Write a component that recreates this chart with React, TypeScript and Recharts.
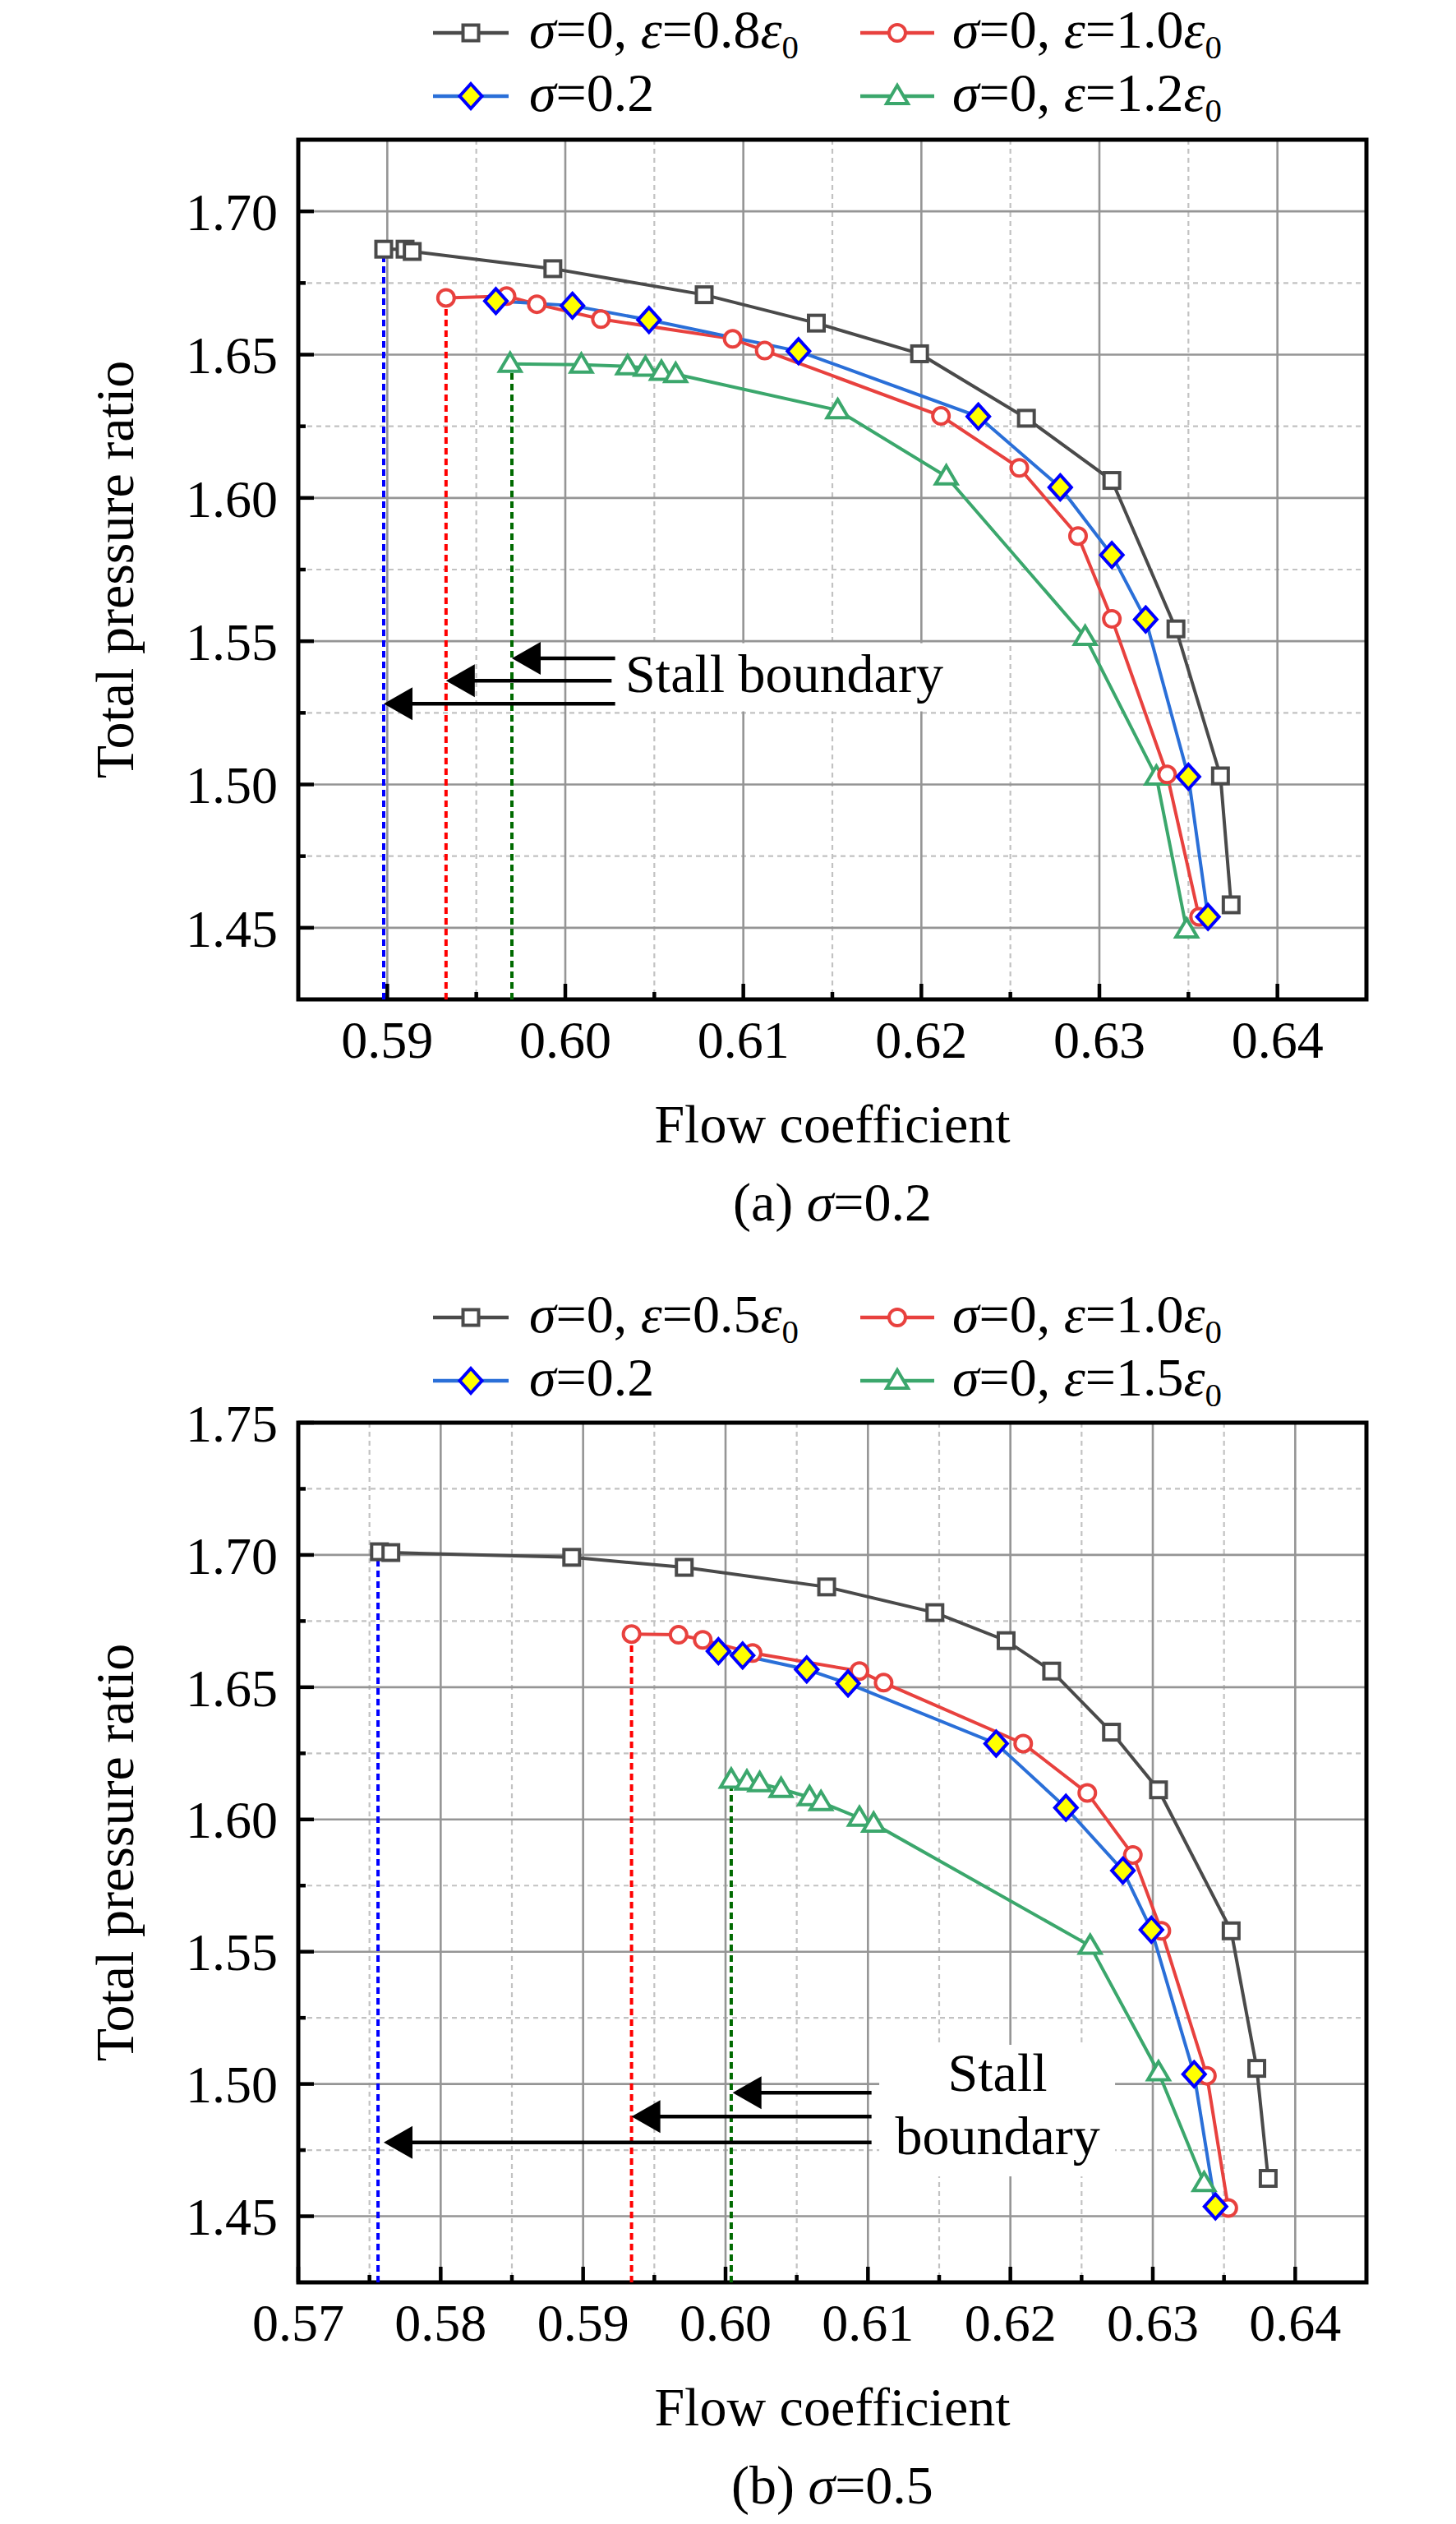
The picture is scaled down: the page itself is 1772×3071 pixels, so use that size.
import React from 'react';
import {
  LineChart,
  Line,
  XAxis,
  YAxis,
  CartesianGrid,
  ReferenceLine,
  ReferenceArea,
  ReferenceDot,
  Legend,
} from 'recharts';

const FONT = '"Liberation Serif", "Times New Roman", Times, serif';

// ---------------- Panel (a): sigma = 0.2 ----------------
const aEps08 = [
  { x: 0.5898, y: 1.6868 },
  { x: 0.591, y: 1.6868 },
  { x: 0.5914, y: 1.686 },
  { x: 0.5993, y: 1.68 },
  { x: 0.6078, y: 1.6709 },
  { x: 0.6141, y: 1.661 },
  { x: 0.6199, y: 1.6503 },
  { x: 0.6259, y: 1.6278 },
  { x: 0.6307, y: 1.6061 },
  { x: 0.6343, y: 1.5543 },
  { x: 0.6368, y: 1.503 },
  { x: 0.6374, y: 1.458 },
];
const aEps10 = [
  { x: 0.5933, y: 1.6698 },
  { x: 0.5967, y: 1.6704 },
  { x: 0.5984, y: 1.6676 },
  { x: 0.602, y: 1.6624 },
  { x: 0.6094, y: 1.6555 },
  { x: 0.6112, y: 1.6514 },
  { x: 0.6211, y: 1.6286 },
  { x: 0.6255, y: 1.6105 },
  { x: 0.6288, y: 1.5867 },
  { x: 0.6307, y: 1.5578 },
  { x: 0.6338, y: 1.5035 },
  { x: 0.6356, y: 1.4538 },
];
const aSigma = [
  { x: 0.5961, y: 1.6687 },
  { x: 0.6004, y: 1.6671 },
  { x: 0.6047, y: 1.6621 },
  { x: 0.6131, y: 1.6512 },
  { x: 0.6232, y: 1.6284 },
  { x: 0.6278, y: 1.6037 },
  { x: 0.6307, y: 1.5801 },
  { x: 0.6326, y: 1.5576 },
  { x: 0.635, y: 1.5027 },
  { x: 0.6361, y: 1.4538 },
];
const aEps12 = [
  { x: 0.5969, y: 1.6468 },
  { x: 0.6009, y: 1.6465 },
  { x: 0.6035, y: 1.6459 },
  { x: 0.6045, y: 1.6454 },
  { x: 0.6054, y: 1.644 },
  { x: 0.6062, y: 1.6432 },
  { x: 0.6153, y: 1.6306 },
  { x: 0.6214, y: 1.6075 },
  { x: 0.6292, y: 1.5515 },
  { x: 0.6332, y: 1.5027 },
  { x: 0.6349, y: 1.4494 },
];
const aXDomain = [0.585, 0.645];
const aYDomain = [1.425, 1.725];
const aXMajor = [0.59, 0.6, 0.61, 0.62, 0.63, 0.64];
const aXMinor = [0.595, 0.605, 0.615, 0.625, 0.635];
const aYMajor = [1.45, 1.5, 1.55, 1.6, 1.65, 1.7];
const aYMinor = [1.475, 1.525, 1.575, 1.625, 1.675];
// stall lines: x position, top value
const aStallX = [0.5898, 0.5933, 0.597];
const aStallTop = [1.6868, 1.6698, 1.6468];
// arrows: tip x, y, tail x
const aArrowTip = [0.597, 0.5933, 0.5898];
const aArrowY = [1.544, 1.5362, 1.5282];
const aArrowTail = [0.6028, 0.6026, 0.6028];
const aStallLabelPos = { x: 0.6123, y: 1.5324 };
const aStallLabelText = ['Stall boundary'];

// ---------------- Panel (b): sigma = 0.5 ----------------
const bEps05 = [
  { x: 0.5757, y: 1.7012 },
  { x: 0.5765, y: 1.7009 },
  { x: 0.5892, y: 1.6991 },
  { x: 0.5971, y: 1.6953 },
  { x: 0.6071, y: 1.6879 },
  { x: 0.6147, y: 1.6782 },
  { x: 0.6197, y: 1.6676 },
  { x: 0.6229, y: 1.6561 },
  { x: 0.6271, y: 1.633 },
  { x: 0.6304, y: 1.6112 },
  { x: 0.6355, y: 1.5579 },
  { x: 0.6373, y: 1.5059 },
  { x: 0.6381, y: 1.4643 },
];
const bEps10 = [
  { x: 0.5934, y: 1.6701 },
  { x: 0.5967, y: 1.6698 },
  { x: 0.5984, y: 1.6679 },
  { x: 0.6019, y: 1.6629 },
  { x: 0.6094, y: 1.6561 },
  { x: 0.6111, y: 1.6517 },
  { x: 0.6209, y: 1.6287 },
  { x: 0.6254, y: 1.61 },
  { x: 0.6286, y: 1.5866 },
  { x: 0.6306, y: 1.5579 },
  { x: 0.6338, y: 1.5031 },
  { x: 0.6353, y: 1.4531 },
];
const bSigma = [
  { x: 0.5995, y: 1.6636 },
  { x: 0.6012, y: 1.662 },
  { x: 0.6057, y: 1.6567 },
  { x: 0.6086, y: 1.6514 },
  { x: 0.619, y: 1.6287 },
  { x: 0.6239, y: 1.6044 },
  { x: 0.6279, y: 1.5807 },
  { x: 0.6299, y: 1.5583 },
  { x: 0.6329, y: 1.5037 },
  { x: 0.6344, y: 1.4537 },
];
const bEps15 = [
  { x: 0.6004, y: 1.615 },
  { x: 0.6015, y: 1.6143 },
  { x: 0.6024, y: 1.6137 },
  { x: 0.6039, y: 1.6115 },
  { x: 0.6059, y: 1.6084 },
  { x: 0.6067, y: 1.6065 },
  { x: 0.6094, y: 1.6006 },
  { x: 0.6104, y: 1.5984 },
  { x: 0.6256, y: 1.5522 },
  { x: 0.6304, y: 1.5044 },
  { x: 0.6336, y: 1.4625 },
];
const bXDomain = [0.57, 0.645];
const bYDomain = [1.425, 1.75];
const bXMajor = [0.57, 0.58, 0.59, 0.6, 0.61, 0.62, 0.63, 0.64];
const bXMinor = [0.575, 0.585, 0.595, 0.605, 0.615, 0.625, 0.635];
const bYMajor = [1.45, 1.5, 1.55, 1.6, 1.65, 1.7, 1.75];
const bYMinor = [1.475, 1.525, 1.575, 1.625, 1.675, 1.725];
const bStallX = [0.5756, 0.5934, 0.6004];
const bStallTop = [1.7012, 1.6701, 1.615];
const bArrowTip = [0.6005, 0.5934, 0.576];
const bArrowY = [1.4967, 1.4877, 1.4779];
const bArrowTail = [0.61025, 0.61025, 0.61025];
const bStallLabelPos = { x: 0.6191, y: 1.4974 };
const bStallLabelText = ['Stall', 'boundary'];

// ---------------- styling ----------------
const COL_BLACK = '#4a4a4a';
const COL_RED = '#e8413e';
const COL_BLUE = '#2a6fd8';
const COL_GREEN = '#3ba76c';
const STALL_COLORS = ['#0000ff', '#ff0000', '#006a00'];

const PLOT_TOP = 170;
const PLOT_H = 1046;
const PLOT_LEFT = 363;
const PLOT_W = 1300;
const CHART_W = 1772;
const MSW = 4; // marker stroke width

type Pt = { x: number; y: number };
type Series = { name: string; data: Pt[]; color: string; marker: string };

function Marker({ kind, cx, cy, color }: { kind: string; cx: number; cy: number; color: string }) {
  if (kind === 'square') {
    return <rect x={cx - 9.5} y={cy - 9.5} width={19} height={19} fill="#fff" stroke={color} strokeWidth={MSW} />;
  }
  if (kind === 'circle') {
    return <circle cx={cx} cy={cy} r={10} fill="#fff" stroke={color} strokeWidth={MSW} />;
  }
  if (kind === 'diamond') {
    return (
      <polygon
        points={`${cx},${cy - 15} ${cx + 13.5},${cy} ${cx},${cy + 15} ${cx - 13.5},${cy}`}
        fill="#ffff00"
        stroke="#0000ff"
        strokeWidth={MSW}
      />
    );
  }
  return (
    <polygon
      points={`${cx},${cy - 13} ${cx + 13},${cy + 9} ${cx - 13},${cy + 9}`}
      fill="#fff"
      stroke={color}
      strokeWidth={MSW}
    />
  );
}

function makeDot(kind: string, color: string) {
  return (p: any) => {
    if (p == null || p.cx == null || p.cy == null) return <g key={`e-${kind}-${p?.index}`} />;
    return (
      <g key={`${kind}-${p.index}`}>
        <Marker kind={kind} cx={p.cx} cy={p.cy} color={color} />
      </g>
    );
  };
}

function RichText({ s, fontSize }: { s: string; fontSize: number }) {
  const parts: React.ReactNode[] = [];
  let buf = '';
  let key = 0;
  const flush = () => {
    if (buf) {
      parts.push(<tspan key={key++}>{buf}</tspan>);
      buf = '';
    }
  };
  for (let k = 0; k < s.length; k++) {
    const ch = s[k];
    if (ch === 'σ' || ch === 'ε') {
      flush();
      parts.push(
        <tspan key={key++} fontStyle="italic">
          {ch}
        </tspan>
      );
    } else if (ch === '_') {
      flush();
      parts.push(
        <tspan key={key++} fontSize={fontSize * 0.62} dy={fontSize * 0.2}>
          {s[k + 1]}
        </tspan>
      );
      k++;
    } else {
      buf += ch;
    }
  }
  flush();
  return <>{parts}</>;
}

function LegendSvg({ series, rowY }: { series: Series[]; rowY: number[] }) {
  // series order: [col1row1, col2row1, col1row2, col2row2]
  const cols = [
    { lineX1: 527, lineX2: 619, markX: 573, textX: 644 },
    { lineX1: 1047, lineX2: 1137, markX: 1092, textX: 1159 },
  ];
  return (
    <svg width={CHART_W} height={PLOT_TOP} style={{ display: 'block' }}>
      {series.map((s, i) => {
        const c = cols[i % 2];
        const y = rowY[Math.floor(i / 2)];
        return (
          <g key={s.name}>
            <line x1={c.lineX1} x2={c.lineX2} y1={y} y2={y} stroke={s.color} strokeWidth={4.5} />
            <Marker kind={s.marker} cx={c.markX} cy={y} color={s.color} />
            <text x={c.textX} y={y + 18} fontFamily={FONT} fontSize={66} fill="#000">
              <RichText s={s.name} fontSize={66} />
            </text>
          </g>
        );
      })}
    </svg>
  );
}

const XTick = (p: any) => {
  const { x, y, payload, majors } = p;
  const v = payload.value as number;
  const major = majors.some((m: number) => Math.abs(m - v) < 1e-7);
  const axisY = y - 26;
  return (
    <g>
      <line x1={x} x2={x} y1={axisY} y2={axisY - (major ? 19 : 9)} stroke="#000" strokeWidth={4.5} />
      {major && (
        <text x={x} y={y} dy="0.71em" textAnchor="middle" fontFamily={FONT} fontSize={64} fill="#000">
          {v.toFixed(2)}
        </text>
      )}
    </g>
  );
};

const YTick = (p: any) => {
  const { x, y, payload, majors } = p;
  const v = payload.value as number;
  const major = majors.some((m: number) => Math.abs(m - v) < 1e-7);
  const axisX = x + 25;
  return (
    <g>
      <line x1={axisX} x2={axisX + (major ? 19 : 9)} y1={y} y2={y} stroke="#000" strokeWidth={4.5} />
      {major && (
        <text x={x} y={y} dy="0.355em" textAnchor="end" fontFamily={FONT} fontSize={64} fill="#000">
          {v.toFixed(2)}
        </text>
      )}
    </g>
  );
};

const arrowShape = (p: any) => {
  const { x1, y1, x2, y2 } = p;
  if (x1 == null || x2 == null) return <g />;
  const tip = x2;
  return (
    <g>
      <line x1={x1} y1={y1} x2={tip + 30} y2={y2} stroke="#000" strokeWidth={4.5} />
      <polygon points={`${tip},${y2} ${tip + 35},${y2 - 20} ${tip + 35},${y2 + 20}`} fill="#000" />
    </g>
  );
};

function stallLabelShape(lines: string[], box: number[]) {
  return (p: any) => {
    const { cx, cy } = p;
    if (cx == null || cy == null) return <g />;
    return (
      <g>
        <rect x={cx + box[0]} y={cy + box[1]} width={box[2] - box[0]} height={box[3] - box[1]} fill="#fff" />
        {lines.map((t, i) => (
          <text key={t} x={cx} y={cy + i * 77} textAnchor="middle" fontFamily={FONT} fontSize={66} fill="#000">
            {t}
          </text>
        ))}
      </g>
    );
  };
}

type PanelProps = {
  height: number;
  xDomain: number[];
  yDomain: number[];
  xMajor: number[];
  xMinor: number[];
  yMajor: number[];
  yMinor: number[];
  series: Series[];
  drawOrder: number[];
  stallX: number[];
  stallTop: number[];
  arrowTip: number[];
  arrowY: number[];
  arrowTail: number[];
  labelPos: Pt;
  labelText: string[];
  labelBox: number[];
  caption: string;
  legendRows: number[];
};

function Panel(props: PanelProps) {
  const {
    height,
    xDomain,
    yDomain,
    xMajor,
    xMinor,
    yMajor,
    yMinor,
    series,
    drawOrder,
    stallX,
    stallTop,
    arrowTip,
    arrowY,
    arrowTail,
    labelPos,
    labelText,
    labelBox,
    caption,
    legendRows,
  } = props;
  const xTicks = [...xMajor, ...xMinor].sort((a, b) => a - b);
  const yTicks = [...yMajor, ...yMinor].sort((a, b) => a - b);
  const xAxisH = height - PLOT_TOP - PLOT_H;
  const plotBottom = PLOT_TOP + PLOT_H;
  const centerX = PLOT_LEFT + PLOT_W / 2;

  const xLabel = () => (
    <g>
      <text x={centerX} y={plotBottom + 174} textAnchor="middle" fontFamily={FONT} fontSize={66} fill="#000">
        Flow coefficient
      </text>
      <text x={centerX} y={plotBottom + 269} textAnchor="middle" fontFamily={FONT} fontSize={66} fill="#000">
        <RichText s={caption} fontSize={66} />
      </text>
    </g>
  );
  const yLabel = () => {
    const cx = 162;
    const cy = PLOT_TOP + PLOT_H / 2;
    return (
      <text
        x={cx}
        y={cy}
        transform={`rotate(-90 ${cx} ${cy})`}
        textAnchor="middle"
        fontFamily={FONT}
        fontSize={66}
        fill="#000"
      >
        Total pressure ratio
      </text>
    );
  };

  return (
    <LineChart
      width={CHART_W}
      height={height}
      margin={{ top: PLOT_TOP, right: CHART_W - PLOT_LEFT - PLOT_W, bottom: 0, left: PLOT_LEFT - 150 }}
    >
      <CartesianGrid
        horizontalValues={yMinor}
        verticalValues={xMinor}
        stroke="#c2c2c2"
        strokeWidth={2.2}
        strokeDasharray="6 5"
      />
      <CartesianGrid horizontalValues={yMajor} verticalValues={xMajor} stroke="#959595" strokeWidth={2.6} />
      <XAxis
        type="number"
        dataKey="x"
        domain={xDomain}
        ticks={xTicks}
        interval={0}
        allowDataOverflow
        tickLine={false}
        axisLine={false}
        tickSize={0}
        tickMargin={26}
        height={xAxisH}
        tick={(p: any) => <XTick {...p} majors={xMajor} />}
        label={xLabel}
      />
      <YAxis
        type="number"
        domain={yDomain}
        ticks={yTicks}
        interval={0}
        allowDataOverflow
        tickLine={false}
        axisLine={false}
        tickSize={0}
        tickMargin={25}
        width={150}
        tick={(p: any) => <YTick {...p} majors={yMajor} />}
        label={yLabel}
      />
      <Legend
        layout="vertical"
        align="center"
        verticalAlign="middle"
        wrapperStyle={{ left: 0, top: 0, width: CHART_W, height: PLOT_TOP }}
        content={() => <LegendSvg series={series} rowY={legendRows} />}
      />
      {stallX.map((x, i) => (
        <ReferenceLine
          key={`stall-${i}`}
          segment={[
            { x, y: yDomain[0] },
            { x, y: stallTop[i] },
          ]}
          stroke={STALL_COLORS[i]}
          strokeWidth={4}
          strokeDasharray="8 5"
          ifOverflow="visible"
        />
      ))}
      <ReferenceDot
        x={labelPos.x}
        y={labelPos.y}
        r={0}
        ifOverflow="visible"
        shape={stallLabelShape(labelText, labelBox)}
      />
      {arrowTip.map((tip, i) => (
        <ReferenceLine
          key={`arrow-${i}`}
          segment={[
            { x: arrowTail[i], y: arrowY[i] },
            { x: tip, y: arrowY[i] },
          ]}
          ifOverflow="visible"
          shape={arrowShape}
        />
      ))}
      {drawOrder.map((idx) => {
        const s = series[idx];
        return (
          <Line
            key={s.name}
            data={s.data}
            dataKey="y"
            name={s.name}
            type="linear"
            stroke={s.color}
            strokeWidth={4}
            dot={makeDot(s.marker, s.color)}
            activeDot={false}
            isAnimationActive={false}
          />
        );
      })}
      <ReferenceArea
        x1={xDomain[0]}
        x2={xDomain[1]}
        y1={yDomain[0]}
        y2={yDomain[1]}
        fill="none"
        fillOpacity={0}
        stroke="#000"
        strokeWidth={5}
        ifOverflow="visible"
      />
    </LineChart>
  );
}

const aSeries: Series[] = [
  { name: 'σ=0, ε=0.8ε_0', data: aEps08, color: COL_BLACK, marker: 'square' },
  { name: 'σ=0, ε=1.0ε_0', data: aEps10, color: COL_RED, marker: 'circle' },
  { name: 'σ=0.2', data: aSigma, color: COL_BLUE, marker: 'diamond' },
  { name: 'σ=0, ε=1.2ε_0', data: aEps12, color: COL_GREEN, marker: 'triangle' },
];
const bSeries: Series[] = [
  { name: 'σ=0, ε=0.5ε_0', data: bEps05, color: COL_BLACK, marker: 'square' },
  { name: 'σ=0, ε=1.0ε_0', data: bEps10, color: COL_RED, marker: 'circle' },
  { name: 'σ=0.2', data: bSigma, color: COL_BLUE, marker: 'diamond' },
  { name: 'σ=0, ε=1.5ε_0', data: bEps15, color: COL_GREEN, marker: 'triangle' },
];

export default function App() {
  return (
    <div style={{ position: 'absolute', left: 0, top: 0, width: CHART_W, height: 3071, background: '#fff' }}>
      <Panel
        height={1561}
        xDomain={aXDomain}
        yDomain={aYDomain}
        xMajor={aXMajor}
        xMinor={aXMinor}
        yMajor={aYMajor}
        yMinor={aYMinor}
        series={aSeries}
        drawOrder={[0, 3, 1, 2]}
        stallX={aStallX}
        stallTop={aStallTop}
        arrowTip={aArrowTip}
        arrowY={aArrowY}
        arrowTail={aArrowTail}
        labelPos={aStallLabelPos}
        labelText={aStallLabelText}
        labelBox={[-196, -59, 197, 24]}
        caption="(a) σ=0.2"
        legendRows={[40, 117]}
      />
      <Panel
        height={1510}
        xDomain={bXDomain}
        yDomain={bYDomain}
        xMajor={bXMajor}
        xMinor={bXMinor}
        yMajor={bYMajor}
        yMinor={bYMinor}
        series={bSeries}
        drawOrder={[0, 3, 1, 2]}
        stallX={bStallX}
        stallTop={bStallTop}
        arrowTip={bArrowTip}
        arrowY={bArrowY}
        arrowTail={bArrowTail}
        labelPos={bStallLabelPos}
        labelText={bStallLabelText}
        labelBox={[-144, -56, 143, 104]}
        caption="(b) σ=0.5"
        legendRows={[42, 119]}
      />
    </div>
  );
}
